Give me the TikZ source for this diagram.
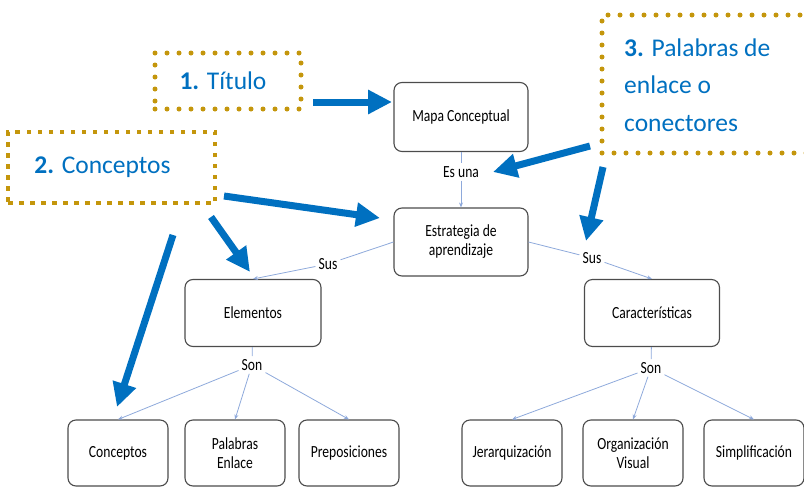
\documentclass[tikz,border=0pt]{standalone}
\usepackage{fontspec}
\setmainfont{Carlito}
\newfontfamily\mapafuente[FakeStretch=0.8]{Carlito}
\usetikzlibrary{arrows.meta, positioning}

\definecolor{notaazul}{HTML}{0070C0}
\definecolor{notaoro}{HTML}{C4960C}
\definecolor{enlaceazul}{HTML}{8EA9DB}

\newcommand{\textomapa}{\mapafuente\fontsize{17}{19}\selectfont}
\newcommand{\textonota}{\fontsize{25.5}{37.5}\selectfont}

\tikzset{
  concepto/.style={draw=black!70, line width=1.1pt, rounded corners=8pt,
    align=center, font=\textomapa, inner sep=0pt},
  enlace/.style={font=\textomapa, inner sep=3pt},
  conector/.style={draw=enlaceazul, line width=0.8pt},
  flecha/.style={conector, -{Stealth[length=5pt,width=4pt]}},
  nota/.style={font=\textonota, text=notaazul, align=left, inner sep=0pt},
  puntos/.style={draw=notaoro, line width=5pt, line cap=round,
    dash pattern=on 0pt off 12pt},
  cuadros/.style={draw=notaoro, line width=4.5pt, line cap=butt,
    dash pattern=on 4.5pt off 6.5pt},
  indicador/.style={draw=notaazul, line width=7pt,
    -{Triangle[length=24pt,width=23pt]}}
}

\begin{document}
\begin{tikzpicture}[x=1pt, y=-1pt]
\clip (0,0) rectangle (804,488);

% Conceptos del mapa
\node[concepto, minimum width=134pt, minimum height=69pt] (mapa) at (461,117) {Mapa Conceptual};
\node[concepto, minimum width=134pt, minimum height=68pt] (estrategia) at (461,242) {Estrategia de\\aprendizaje};
\node[concepto, minimum width=136pt, minimum height=67pt] (elementos) at (253,313) {Elementos};
\node[concepto, minimum width=135pt, minimum height=67pt] (caracteristicas) at (652,313) {Características};
\foreach \n/\x/\t in {conceptos/118/Conceptos, palabras/235/Palabras\\Enlace,
    preposiciones/349/Preposiciones, jerarquia/512/Jerarquización,
    organizacion/633/Organización\\Visual, simplificacion/754/Simplificación} {
  \node[concepto, minimum width=100pt, minimum height=66pt] (\n) at (\x,453) {\t};
}

% Palabras de enlace
\node[enlace] (esuna) at (461,172) {Es una};
\node[enlace] (susizq) at (328,264) {Sus};
\node[enlace] (susder) at (592,258) {Sus};
\node[enlace] (sonizq) at (252,365) {Son};
\node[enlace] (sonder) at (651,368) {Son};

% Conectores
\draw[conector] (mapa) -- (esuna);
\draw[flecha] (esuna) -- (estrategia);
\draw[conector] (estrategia.west) -- (susizq);
\draw[flecha] (susizq) -- (elementos.north);
\draw[conector] (estrategia.east) -- (susder);
\draw[flecha] (susder) -- (caracteristicas.north);
\draw[conector] (elementos) -- (sonizq);
\draw[conector] (caracteristicas) -- (sonder);
\foreach \n in {conceptos, palabras, preposiciones} {
  \draw[flecha] (sonizq) -- (\n.north);
}
\foreach \n in {jerarquia, organizacion, simplificacion} {
  \draw[flecha] (sonder) -- (\n.north);
}

% Notas
\node[nota, puntos, minimum width=146pt, minimum height=56pt, align=center] (titulo) at (228,81) {\textbf{1.} Título\hspace{10pt}};
\node[nota, cuadros, minimum width=207pt, minimum height=71pt, align=center] (notaconceptos) at (111.5,167.5) {\textbf{2.} Conceptos\hspace{18pt}};
\node[puntos, minimum width=240pt, minimum height=138pt] (notaenlace) at (722,84) {};
\node[nota, anchor=west] (textoenlace) at (624,85) {\textbf{3.} Palabras de\\enlace o\\conectores};

% Flechas indicadoras
\coordinate (f1a) at (313,102); \coordinate (f1b) at (392,102);
\coordinate (f2a) at (224,196); \coordinate (f2b) at (380,218);
\coordinate (f3a) at (211,217); \coordinate (f3b) at (250,272);
\coordinate (f4a) at (173,235); \coordinate (f4b) at (117,407);
\coordinate (f5a) at (590,146); \coordinate (f5b) at (493,172);
\coordinate (f6a) at (603,167); \coordinate (f6b) at (586,241);
\foreach \i in {1,...,6} {
  \draw[indicador] (f\i a) -- (f\i b);
}
\end{tikzpicture}
\end{document}
